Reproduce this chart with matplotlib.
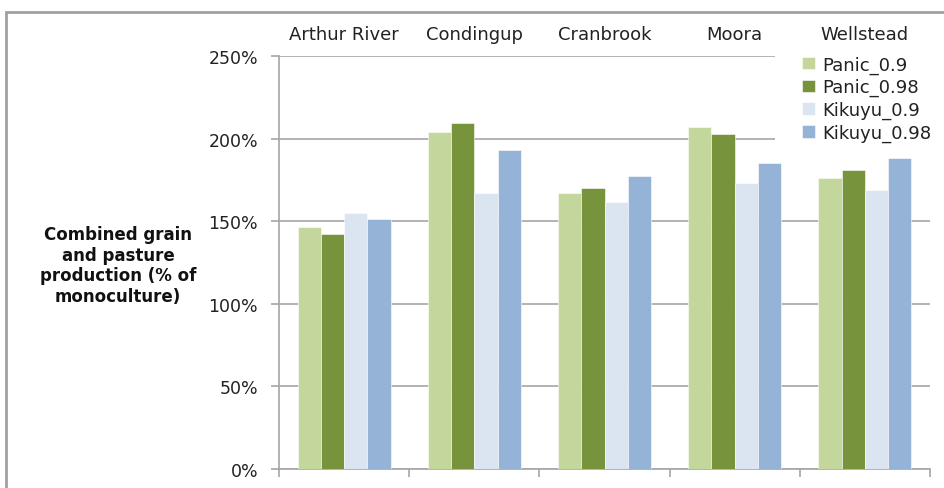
import matplotlib
matplotlib.use("Agg")
import matplotlib.pyplot as plt
from matplotlib.patches import Rectangle
import numpy as np

sites = ["Arthur River", "Condingup", "Cranbrook", "Moora", "Wellstead"]
series_names = ["Panic_0.9", "Panic_0.98", "Kikuyu_0.9", "Kikuyu_0.98"]
panic_09 = [1.466, 2.042, 1.673, 2.068, 1.762]
panic_098 = [1.421, 2.093, 1.703, 2.028, 1.812]
kikuyu_09 = [1.548, 1.673, 1.618, 1.733, 1.689]
kikuyu_098 = [1.513, 1.933, 1.775, 1.852, 1.883]
yticks = [0, 0.5, 1.0, 1.5, 2.0, 2.5]
ytick_labels = ["0%", "50%", "100%", "150%", "200%", "250%"]
colors = ["#c3d69b", "#77933c", "#dbe5f1", "#95b3d7"]

W, H = 945, 489
fig = plt.figure(figsize=(W / 100, H / 100), dpi=100)
ax = fig.add_axes([279 / W, 1 - 470 / H, (930 - 279) / W, (470 - 57) / H])
ax.set_axisbelow(True)

x = np.arange(len(sites))
bw = 0.714 / 4
all_series = [panic_09, panic_098, kikuyu_09, kikuyu_098]
for i, (vals, name, c) in enumerate(zip(all_series, series_names, colors)):
    ax.bar(x + (i - 1.5) * bw, vals, width=bw, color=c, label=name,
           edgecolor="white", linewidth=0.4, zorder=3)

ax.set_xlim(-0.5, len(sites) - 0.5)
ax.set_ylim(0, 2.5)
ax.set_yticks(yticks)
ax.set_yticklabels(ytick_labels)
ax.yaxis.grid(True, color="#a6a6a6", linewidth=1.2)

grey = "#a6a6a6"
for s in ["top", "right"]:
    ax.spines[s].set_visible(False)
for s in ["left", "bottom"]:
    ax.spines[s].set_color(grey)
    ax.spines[s].set_linewidth(1.2)

ax.set_xticks(x)
ax.set_xticklabels(sites)
ax.set_xticks(np.arange(-0.5, len(sites)), minor=True)
ax.tick_params(axis="x", which="major", bottom=False, top=False,
               labelbottom=False, labeltop=True, pad=6, labelsize=13,
               labelcolor="#222222")
ax.tick_params(axis="x", which="minor", bottom=True, length=6,
               width=1.2, color=grey)
ax.tick_params(axis="y", length=6, width=1.2, color=grey, pad=9,
               labelsize=12.5, labelcolor="#222222")

fig.text(118 / W, 1 - 266 / H,
         "Combined grain\nand pasture\nproduction (% of\nmonoculture)",
         ha="center", va="center", multialignment="center",
         fontsize=12, fontweight="bold", color="#111111", linespacing=1.2)

# white area behind legend hiding gridlines
ax.add_patch(Rectangle((775 / W, 1 - 148 / H), (945 - 775) / W, 100 / H,
                       transform=fig.transFigure, facecolor="white",
                       edgecolor="none", zorder=2, clip_on=False))

leg = ax.legend(loc="upper left", bbox_to_anchor=(797 / W, 1 - 51 / H),
                bbox_transform=fig.transFigure, frameon=False,
                fontsize=13, handlelength=0.7, handleheight=0.7,
                handletextpad=0.4, labelspacing=0.25, borderpad=0.3,
                borderaxespad=0)
leg.set_zorder(5)
for t in leg.get_texts():
    t.set_color("#222222")

# outer chart frame (top and left edges visible)
fig.patches.append(Rectangle((6 / W, -0.1), 1.2, 1 - 13 / H + 0.1,
                             transform=fig.transFigure, fill=False,
                             edgecolor="#a0a0a0", linewidth=2))

fig.savefig("out.png", dpi=100)
